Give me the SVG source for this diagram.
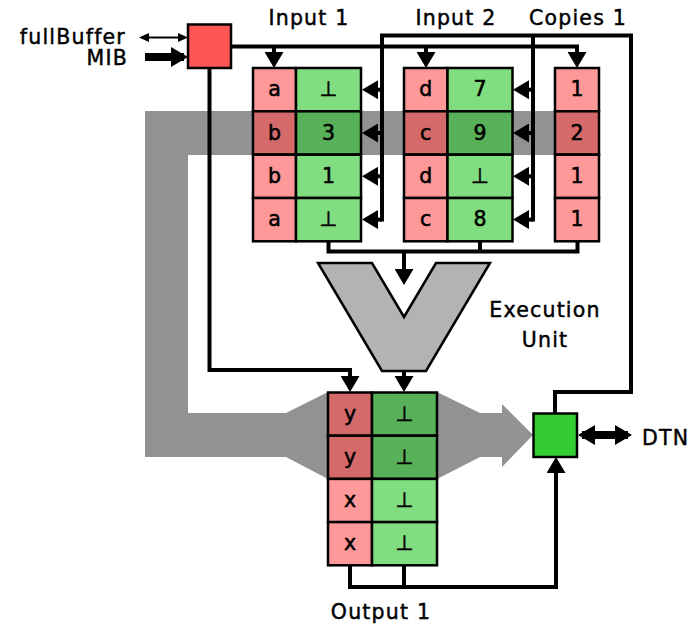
<svg xmlns="http://www.w3.org/2000/svg" width="692" height="626" viewBox="0 0 692 626">
  <style>
    text { font-family: "DejaVu Sans", "Noto Sans", sans-serif; font-size: 20.5px; fill: #000; stroke: #000; stroke-width: 0.45; letter-spacing: 1.2px; }
    .lbl { text-anchor: middle; }
    .cell { stroke: #000; stroke-width: 2.5; }
    .rl { fill: #FF9999; }
    .rd { fill: #D46A6A; }
    .gl { fill: #80DD80; }
    .gd { fill: #58B058; }
    .wire { fill: none; stroke: #000; stroke-width: 4; }
    .ct { text-anchor: middle; font-size: 20.5px; letter-spacing: 0; stroke-width: 0.55; }
  </style>
  <defs>
    <!-- standard wire head: tip sits 4px past the wire end -->
    <marker id="ah" markerUnits="userSpaceOnUse" markerWidth="16" markerHeight="19" refX="12" refY="9.5" orient="auto">
      <path d="M0,0 L16,9.5 L0,19 Z" fill="#000"/>
    </marker>
    <!-- wide head for the thick MIB / DTN links -->
    <marker id="bh" markerUnits="userSpaceOnUse" markerWidth="17" markerHeight="20" refX="13" refY="10" orient="auto-start-reverse">
      <path d="M0,0 L17,10 L0,20 Z" fill="#000"/>
    </marker>
    <!-- small head for the fullBuffer signal -->
    <marker id="sh" markerUnits="userSpaceOnUse" markerWidth="10" markerHeight="9" refX="7" refY="4.5" orient="auto-start-reverse">
      <path d="M0,0 L10,4.5 L0,9 Z" fill="#000"/>
    </marker>
  </defs>

  <!-- data-flow band (drawn underneath everything) -->
  <g id="band" fill="#929292">
    <path d="M145,111 L599,111 L599,155 L188,155 L188,413 L286,413 L328,392 L328,479 L286,457 L145,457 Z"/>
    <path d="M437,392 L480,413 L502,413 L502,404 L533,435 L502,467 L502,457 L480,457 L437,479 Z"/>
  </g>

  <!-- execution unit -->
  <g id="exec">
    <path d="M318,263 L372,263 L404,317 L436,263 L490,263 L426,371 L382,371 Z" fill="#B3B3B3" stroke="#000" stroke-width="2.5"/>
    <text class="lbl" x="545" y="317">Execution</text>
    <text class="lbl" x="545" y="346.5">Unit</text>
  </g>

  <!-- connectors -->
  <g id="connectors">
    <!-- fullBuffer / MIB into the MIB box -->
    <line x1="142" y1="37.5" x2="185" y2="37.5" stroke="#000" stroke-width="2" marker-start="url(#sh)" marker-end="url(#sh)"/>
    <line x1="145" y1="57" x2="184" y2="57" stroke="#000" stroke-width="8" marker-end="url(#bh)"/>
    <!-- MIB box to table heads -->
    <path class="wire" d="M231,46.5 L579,46.5"/>
    <path class="wire" d="M274,46.5 L274,64" marker-end="url(#ah)"/>
    <path class="wire" d="M426,46.5 L426,64" marker-end="url(#ah)"/>
    <path class="wire" d="M577,46.5 L577,64" marker-end="url(#ah)"/>
    <!-- MIB box down to output 1 -->
    <path class="wire" d="M209.5,68 L209.5,370 L350,370 L350,388" marker-end="url(#ah)"/>
    <!-- DTN box feedback to table rows -->
    <path class="wire" d="M555,413 L555,392 L631,392 L631,35.5 L382,35.5 L382,221.5"/>
    <path class="wire" d="M533,35.5 L533,221.5"/>
    <path class="wire" d="M382,89.7 L366,89.7" marker-end="url(#ah)"/>
    <path class="wire" d="M382,133 L366,133" marker-end="url(#ah)"/>
    <path class="wire" d="M382,176.3 L366,176.3" marker-end="url(#ah)"/>
    <path class="wire" d="M382,219.6 L366,219.6" marker-end="url(#ah)"/>
    <path class="wire" d="M533,89.7 L517,89.7" marker-end="url(#ah)"/>
    <path class="wire" d="M533,133 L517,133" marker-end="url(#ah)"/>
    <path class="wire" d="M533,176.3 L517,176.3" marker-end="url(#ah)"/>
    <path class="wire" d="M533,219.6 L517,219.6" marker-end="url(#ah)"/>
    <!-- operands into the execution unit -->
    <path class="wire" d="M328.5,241 L328.5,251.5 L577.5,251.5 L577.5,241"/>
    <path class="wire" d="M480,241 L480,251.5"/>
    <path class="wire" d="M404,251.5 L404,281" marker-end="url(#ah)"/>
    <!-- execution unit to output 1 -->
    <path class="wire" d="M404,371 L404,388" marker-end="url(#ah)"/>
    <!-- output 1 to DTN box -->
    <path class="wire" d="M350,565 L350,587 L556,587 L556,461" marker-end="url(#ah)"/>
    <path class="wire" d="M404,565 L404,587"/>
    <!-- DTN link -->
    <line x1="582" y1="435" x2="628" y2="435" stroke="#000" stroke-width="8" marker-start="url(#bh)" marker-end="url(#bh)"/>
  </g>

  <!-- MIB box -->
  <g id="mib">
    <rect x="188" y="24.5" width="43" height="43.5" fill="#FF5555" stroke="#000" stroke-width="2.5"/>
    <text x="126" y="43.5" text-anchor="end">fullBuffer</text>
    <text x="128" y="65" text-anchor="end">MIB</text>
  </g>

  <!-- Input 1 -->
  <g id="input1">
    <text class="lbl" x="309" y="25">Input 1</text>
    <rect class="cell rl" x="253" y="68" width="43" height="43.3"/>
    <rect class="cell gl" x="296" y="68" width="65" height="43.3"/>
    <rect class="cell rd" x="253" y="111.3" width="43" height="43.3"/>
    <rect class="cell gd" x="296" y="111.3" width="65" height="43.3"/>
    <rect class="cell rl" x="253" y="154.7" width="43" height="43.3"/>
    <rect class="cell gl" x="296" y="154.7" width="65" height="43.3"/>
    <rect class="cell rl" x="253" y="198" width="43" height="43.3"/>
    <rect class="cell gl" x="296" y="198" width="65" height="43.3"/>
    <text class="ct" x="274.5" y="96">a</text>
    <text class="ct" x="328.5" y="96">⊥</text>
    <text class="ct" x="274.5" y="139.5">b</text>
    <text class="ct" x="328.5" y="139.5">3</text>
    <text class="ct" x="274.5" y="183">b</text>
    <text class="ct" x="328.5" y="183">1</text>
    <text class="ct" x="274.5" y="226">a</text>
    <text class="ct" x="328.5" y="226">⊥</text>
  </g>

  <!-- Input 2 -->
  <g id="input2">
    <text class="lbl" x="456" y="25">Input 2</text>
    <rect class="cell rl" x="404" y="68" width="43.5" height="43.3"/>
    <rect class="cell gl" x="447.5" y="68" width="65" height="43.3"/>
    <rect class="cell rd" x="404" y="111.3" width="43.5" height="43.3"/>
    <rect class="cell gd" x="447.5" y="111.3" width="65" height="43.3"/>
    <rect class="cell rl" x="404" y="154.7" width="43.5" height="43.3"/>
    <rect class="cell gl" x="447.5" y="154.7" width="65" height="43.3"/>
    <rect class="cell rl" x="404" y="198" width="43.5" height="43.3"/>
    <rect class="cell gl" x="447.5" y="198" width="65" height="43.3"/>
    <text class="ct" x="425.7" y="96">d</text>
    <text class="ct" x="480" y="96">7</text>
    <text class="ct" x="425.7" y="139.5">c</text>
    <text class="ct" x="480" y="139.5">9</text>
    <text class="ct" x="425.7" y="183">d</text>
    <text class="ct" x="480" y="183">⊥</text>
    <text class="ct" x="425.7" y="226">c</text>
    <text class="ct" x="480" y="226">8</text>
  </g>

  <!-- Copies 1 -->
  <g id="copies1">
    <text class="lbl" x="578" y="25">Copies 1</text>
    <rect class="cell rl" x="555" y="68" width="44" height="43.3"/>
    <rect class="cell rd" x="555" y="111.3" width="44" height="43.3"/>
    <rect class="cell rl" x="555" y="154.7" width="44" height="43.3"/>
    <rect class="cell rl" x="555" y="198" width="44" height="43.3"/>
    <text class="ct" x="577" y="96">1</text>
    <text class="ct" x="577" y="139.5">2</text>
    <text class="ct" x="577" y="183">1</text>
    <text class="ct" x="577" y="226">1</text>
  </g>

  <!-- Output 1 -->
  <g id="output1">
    <rect class="cell rd" x="328" y="392.5" width="44" height="43.2"/>
    <rect class="cell gd" x="372" y="392.5" width="65" height="43.2"/>
    <rect class="cell rd" x="328" y="435.7" width="44" height="43.2"/>
    <rect class="cell gd" x="372" y="435.7" width="65" height="43.2"/>
    <rect class="cell rl" x="328" y="478.9" width="44" height="43.2"/>
    <rect class="cell gl" x="372" y="478.9" width="65" height="43.2"/>
    <rect class="cell rl" x="328" y="522.1" width="44" height="43.2"/>
    <rect class="cell gl" x="372" y="522.1" width="65" height="43.2"/>
    <text class="ct" x="350" y="420.5">y</text>
    <text class="ct" x="404.5" y="420.5">⊥</text>
    <text class="ct" x="350" y="464">y</text>
    <text class="ct" x="404.5" y="464">⊥</text>
    <text class="ct" x="350" y="507">x</text>
    <text class="ct" x="404.5" y="507">⊥</text>
    <text class="ct" x="350" y="550">x</text>
    <text class="ct" x="404.5" y="550">⊥</text>
    <text class="lbl" x="381" y="619">Output 1</text>
  </g>

  <!-- DTN box -->
  <g id="dtn">
    <rect x="533.5" y="413.5" width="43.5" height="43.5" fill="#33CC33" stroke="#000" stroke-width="2.5"/>
    <text x="642" y="445">DTN</text>
  </g>
</svg>
